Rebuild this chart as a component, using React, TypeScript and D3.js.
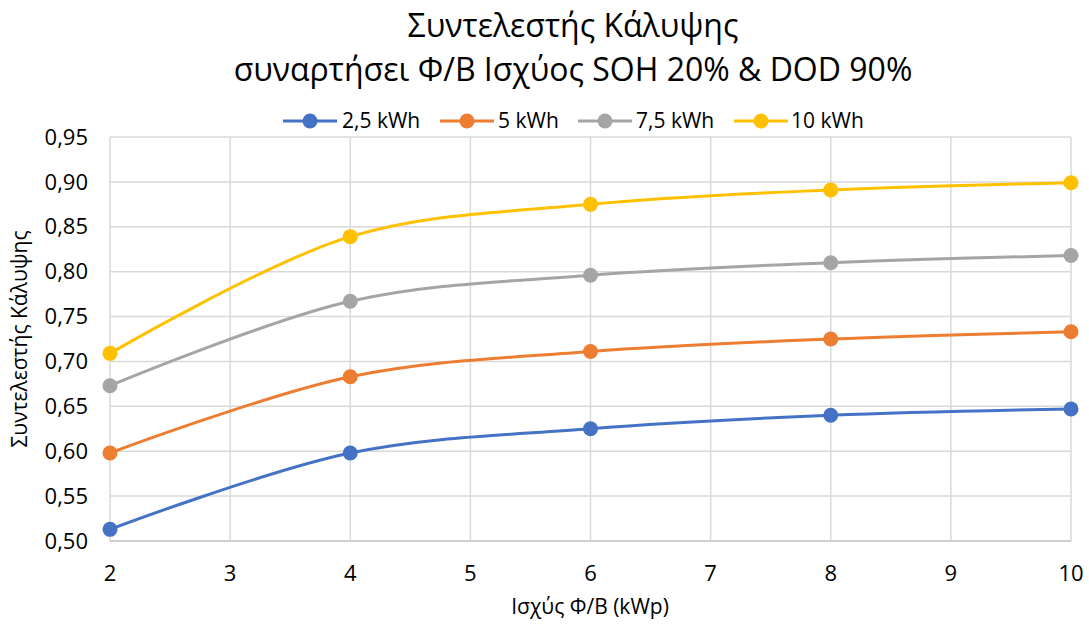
import React from "react";
import * as d3 from "d3";

// PV power (kWp) on the x axis
const pvPower = [2, 4, 6, 8, 10];

// Coverage factor per battery capacity
const cap25 = [0.513, 0.598, 0.625, 0.64, 0.647];
const cap5 = [0.598, 0.683, 0.711, 0.725, 0.733];
const cap75 = [0.673, 0.767, 0.796, 0.81, 0.818];
const cap10 = [0.709, 0.839, 0.875, 0.891, 0.899];

const seriesNames = ["2,5 kWh", "5 kWh", "7,5 kWh", "10 kWh"];
const seriesColors = ["#4472C4", "#ED7D31", "#A5A5A5", "#FFC000"];

const yTicks = [0.5, 0.55, 0.6, 0.65, 0.7, 0.75, 0.8, 0.85, 0.9, 0.95];
const xTicks = [2, 3, 4, 5, 6, 7, 8, 9, 10];

const titleLines = [
  "Συντελεστής Κάλυψης",
  "συναρτήσει Φ/Β Ισχύος SOH 20% & DOD 90%",
];
const xTitle = "Ισχύς Φ/Β (kWp)";
const yTitle = "Συντελεστής Κάλυψης";

const W = 1089;
const H = 626;
const FONT = "'Open Sans', 'Noto Sans', sans-serif";

export default function App() {
  const series = [cap25, cap5, cap75, cap10];
  const x = d3.scaleLinear().domain([2, 10]).range([110, 1071]);
  const y = d3.scaleLinear().domain([0.5, 0.95]).range([541, 137]);
  const fmt = (v: number) => v.toFixed(2).replace(".", ",");

  const line = d3
    .line<[number, number]>()
    .x((d) => x(d[0]))
    .y((d) => y(d[1]))
    .curve(d3.curveCatmullRom.alpha(0.5));

  // legend layout: line swatch + marker + label
  const legendItems = [
    { x0: 283, text: 342 },
    { x0: 440, text: 498 },
    { x0: 578, text: 636 },
    { x0: 734, text: 791 },
  ];
  const legendY = 121;

  return (
    <svg
      width={W}
      height={H}
      style={{ position: "absolute", left: 0, top: 0, background: "#fff" }}
      fontFamily={FONT}
    >
      <rect width={W} height={H} fill="#fff" />
      {/* title */}
      {titleLines.map((t, i) => (
        <text
          key={i}
          x={573}
          y={37 + i * 44}
          textAnchor="middle"
          fontSize={32}
          fill="#000"
        >
          {t}
        </text>
      ))}

      {/* gridlines */}
      {yTicks.map((t) => (
        <line
          key={"gy" + t}
          x1={x(2)}
          x2={x(10)}
          y1={y(t)}
          y2={y(t)}
          stroke="#d9d9d9"
          strokeWidth={1.5}
        />
      ))}
      {xTicks.map((t) => (
        <line
          key={"gx" + t}
          x1={x(t)}
          x2={x(t)}
          y1={y(0.5)}
          y2={y(0.95)}
          stroke="#d9d9d9"
          strokeWidth={1.5}
        />
      ))}
      <line
        x1={x(2)}
        x2={x(10)}
        y1={y(0.5)}
        y2={y(0.5)}
        stroke="#c8c8c8"
        strokeWidth={1.5}
      />

      {/* tick labels */}
      {yTicks.map((t) => (
        <text
          key={"ly" + t}
          x={88}
          y={y(t)}
          dy="0.35em"
          textAnchor="end"
          fontSize={22}
          fill="#000"
        >
          {fmt(t)}
        </text>
      ))}
      {xTicks.map((t) => (
        <text
          key={"lx" + t}
          x={x(t)}
          y={581}
          textAnchor="middle"
          fontSize={22}
          fill="#000"
        >
          {t}
        </text>
      ))}

      {/* axis titles */}
      <text x={590} y={614} textAnchor="middle" fontSize={21} fill="#000">
        {xTitle}
      </text>
      <text
        transform={`translate(27, ${(y(0.5) + y(0.95)) / 2}) rotate(-90)`}
        textAnchor="middle"
        fontSize={21}
        fill="#000"
      >
        {yTitle}
      </text>

      {/* series */}
      {series.map((vals, si) => {
        const pts = pvPower.map((p, i) => [p, vals[i]] as [number, number]);
        return (
          <g key={"s" + si}>
            <path
              d={line(pts) || ""}
              fill="none"
              stroke={seriesColors[si]}
              strokeWidth={3}
              strokeLinecap="round"
            />
            {pts.map((d, i) => (
              <circle
                key={i}
                cx={x(d[0])}
                cy={y(d[1])}
                r={7.5}
                fill={seriesColors[si]}
              />
            ))}
          </g>
        );
      })}

      {/* legend */}
      {legendItems.map((it, i) => (
        <g key={"lg" + i}>
          <line
            x1={it.x0}
            x2={it.x0 + 54}
            y1={legendY}
            y2={legendY}
            stroke={seriesColors[i]}
            strokeWidth={3}
          />
          <circle cx={it.x0 + 27} cy={legendY} r={7.5} fill={seriesColors[i]} />
          <text
            x={it.text}
            y={legendY}
            dy="0.35em"
            fontSize={21}
            fill="#000"
          >
            {seriesNames[i]}
          </text>
        </g>
      ))}
    </svg>
  );
}
